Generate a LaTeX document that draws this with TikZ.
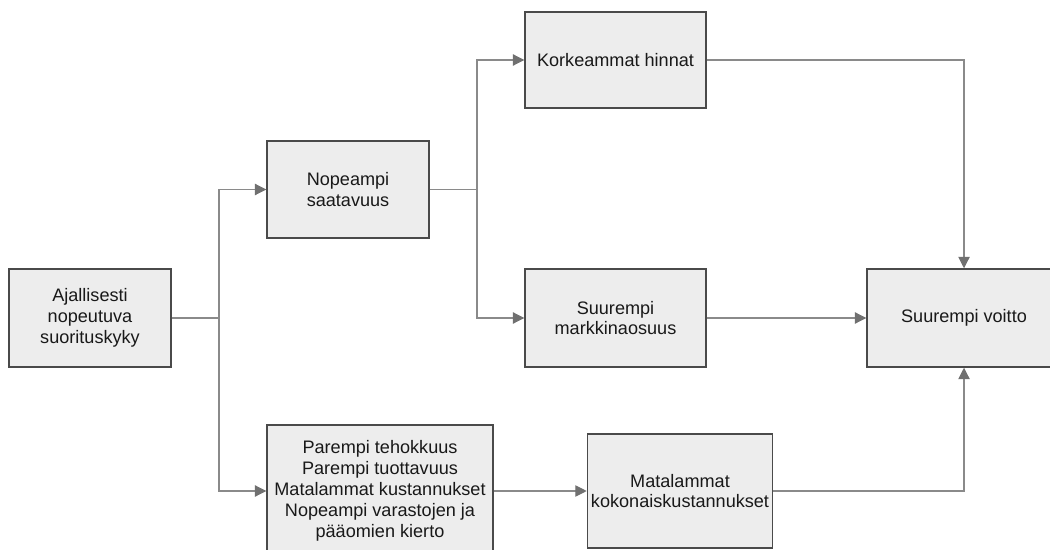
\documentclass[tikz,border=0pt]{standalone}
\usepackage{fontspec}
\setmainfont{Liberation Sans}
\usetikzlibrary{arrows.meta}
\definecolor{boxfill}{HTML}{EDEDED}
\definecolor{boxline}{HTML}{4A4A4A}
\definecolor{linkgray}{HTML}{8A8A8A}
\definecolor{tipgray}{HTML}{707070}
\tikzset{
  stage/.style={draw=boxline, fill=boxfill, line width=0.85pt, align=center,
    inner sep=2pt, font=\fontsize{10.3}{11.9}\selectfont, text=black!90},
  link/.style={draw=linkgray, line width=0.6pt},
  arr/.style={link, -{Triangle[length=6.5pt, width=6.5pt, fill=tipgray, color=tipgray]}}
}
\begin{document}
\begin{tikzpicture}[x=0.02cm, y=-0.02cm]
\useasboundingbox (0,0) rectangle (1050,550);
\clip (0,0) rectangle (1050,550);

% boxes
\node[stage, minimum width=3.24cm, minimum height=1.96cm] (A) at (90,318) {Ajallisesti\\nopeutuva\\suorituskyky};
\node[stage, minimum width=3.24cm, minimum height=1.94cm] (B) at (348,189.5) {Nopeampi\\saatavuus};
\node[stage, minimum width=3.62cm, minimum height=1.92cm] (C) at (615.5,60) {Korkeammat hinnat};
\node[stage, minimum width=3.62cm, minimum height=1.96cm] (D) at (615.5,318) {Suurempi\\markkinaosuus};
\node[stage, minimum width=3.88cm, minimum height=1.96cm] (E) at (964,318) {Suurempi voitto};
\node[stage, minimum width=4.52cm, minimum height=2.64cm] (F) at (380,491) {Parempi tehokkuus\\Parempi tuottavuus\\Matalammat kustannukset\\Nopeampi varastojen ja\\pääomien kierto};
\node[stage, minimum width=3.64cm, minimum height=2.28cm] (G) at (680,491) {Matalammat\\kokonaiskustannukset};

% branch points
\coordinate (j1) at (219,318);
\coordinate (j2) at (477,189.5);

% connectors
\draw[link] (A.east) -- (j1);
\draw[arr] (j1) |- (B.west);
\draw[arr] (j1) |- (F.west);
\draw[link] (B.east) -- (j2);
\draw[arr] (j2) |- (C.west);
\draw[arr] (j2) |- (D.west);
\draw[arr] (C.east) -| (E.north);
\draw[arr] (D.east) -- (E.west);
\draw[arr] (F.east) -- (G.west);
\draw[arr] (G.east) -| (E.south);
\end{tikzpicture}
\end{document}
